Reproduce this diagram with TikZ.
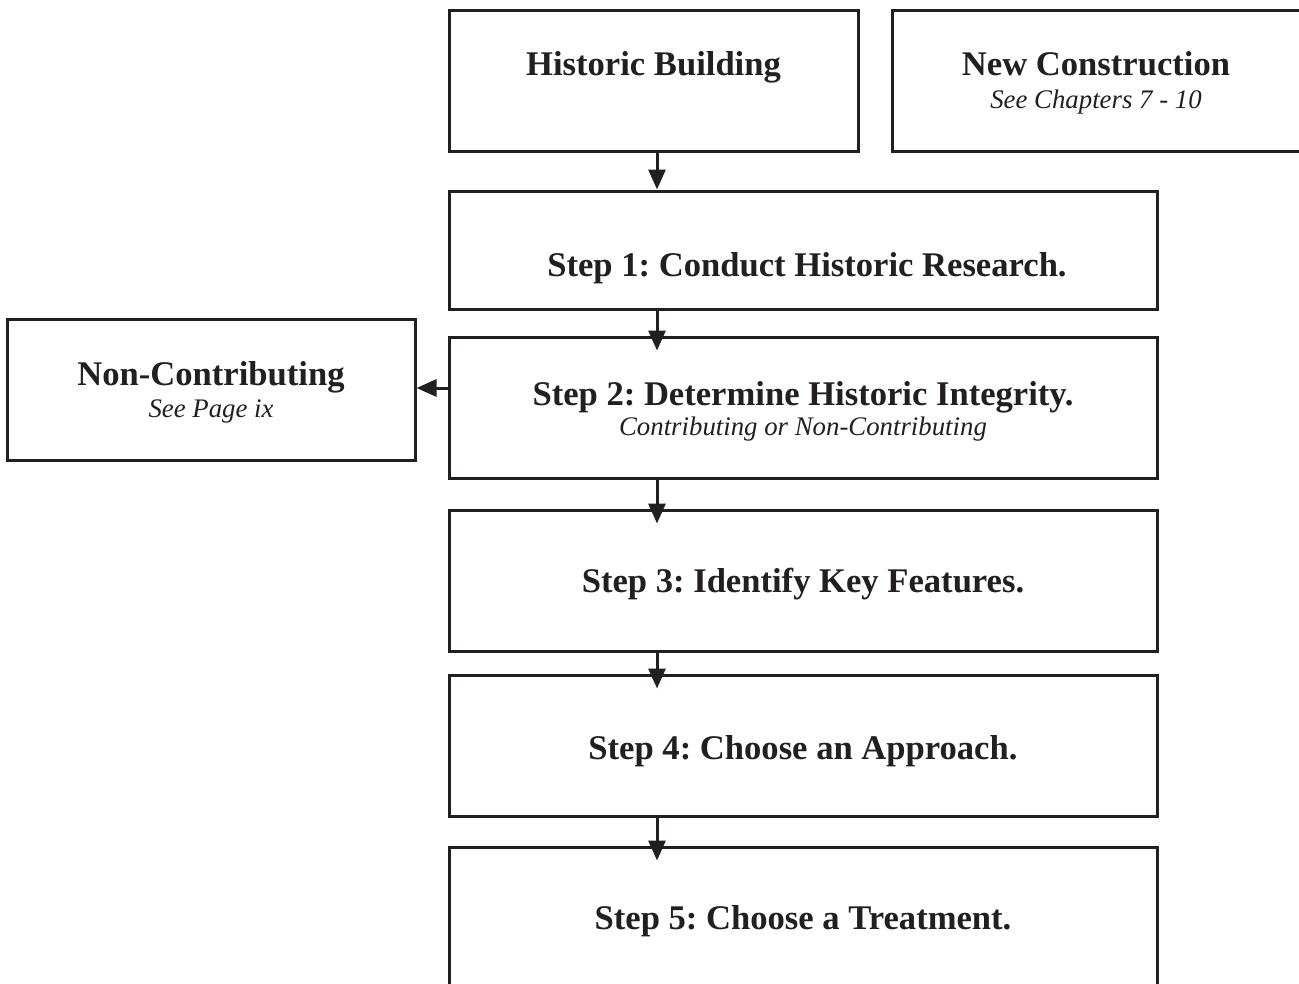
\documentclass[tikz,border=0pt]{standalone}
\usepackage{fontspec}
\setmainfont{Liberation Serif}
\usetikzlibrary{arrows.meta}
\definecolor{ink}{HTML}{231F20}
\frenchspacing
\begin{document}
\begin{tikzpicture}[x=1pt,y=-1pt,
  box/.style={draw=ink,line width=3pt,rectangle,inner sep=0pt},
  ttl/.style={text=ink,font=\fontsize{34.6}{40}\selectfont\bfseries,inner sep=0pt,anchor=base},
  sub/.style={text=ink,font=\fontsize{26.8}{30}\selectfont\itshape,inner sep=0pt,anchor=base},
  arr/.style={draw=ink,line width=3pt,-{Triangle[length=20pt,width=17pt]}}]
\clip (0,0) rectangle (1299,983);
\fill[white] (0,0) rectangle (1299,983);
% boxes
\node[box,minimum width=409pt,minimum height=141pt] (hb) at (653.5,80.5) {};
\node[box,minimum width=440pt,minimum height=141pt] (nc) at (1112,80.5) {};
\node[box,minimum width=708pt,minimum height=118pt] (s1) at (803,250) {};
\node[box,minimum width=708pt,minimum height=141pt] (s2) at (803,407.5) {};
\node[box,minimum width=408pt,minimum height=141pt] (ncb) at (211,389.5) {};
\node[box,minimum width=708pt,minimum height=141pt] (s3) at (803,580.5) {};
\node[box,minimum width=708pt,minimum height=141pt] (s4) at (803,745.5) {};
\node[box,minimum width=708pt,minimum height=160pt] (s5) at (803,927) {};
% texts
\node[ttl] (thb) at (653.5,75) {Historic Building};
\node[ttl] (tnc) at (1096,75) {New Construction};
\node[sub] (snc) at (1096,108) {See Chapters 7 - 10};
\node[ttl] (ts1) at (807,276) {Step 1: Conduct Historic Research.};
\node[ttl] (ts2) at (803,405) {Step 2: Determine Historic Integrity.};
\node[sub] (ss2) at (803,435) {Contributing or Non-Contributing};
\node[ttl] (tncb) at (211,385) {Non-Contributing};
\node[sub] (sncb) at (211,417) {See Page ix};
\node[ttl] (ts3) at (803,592) {Step 3: Identify Key Features.};
\node[ttl] (ts4) at (803,759) {Step 4: Choose an Approach.};
\node[ttl] (ts5) at (803,929) {Step 5: Choose a Treatment.};
% arrows
\coordinate (ax) at (657,0);
\draw[arr] (hb.south -| ax) -- (s1.north -| ax);
\draw[arr] ([yshift=3pt]s1.south -| ax) -- ([yshift=-15pt]s2.north -| ax);
\draw[arr] (s2.south -| ax) -- ([yshift=-15pt]s3.north -| ax);
\draw[arr] (s3.south -| ax) -- ([yshift=-15pt]s4.north -| ax);
\draw[arr] (s4.south -| ax) -- ([yshift=-15pt]s5.north -| ax);
\draw[arr] (s2.west |- 0,388) -- (ncb.east |- 0,388);
\end{tikzpicture}
\end{document}
